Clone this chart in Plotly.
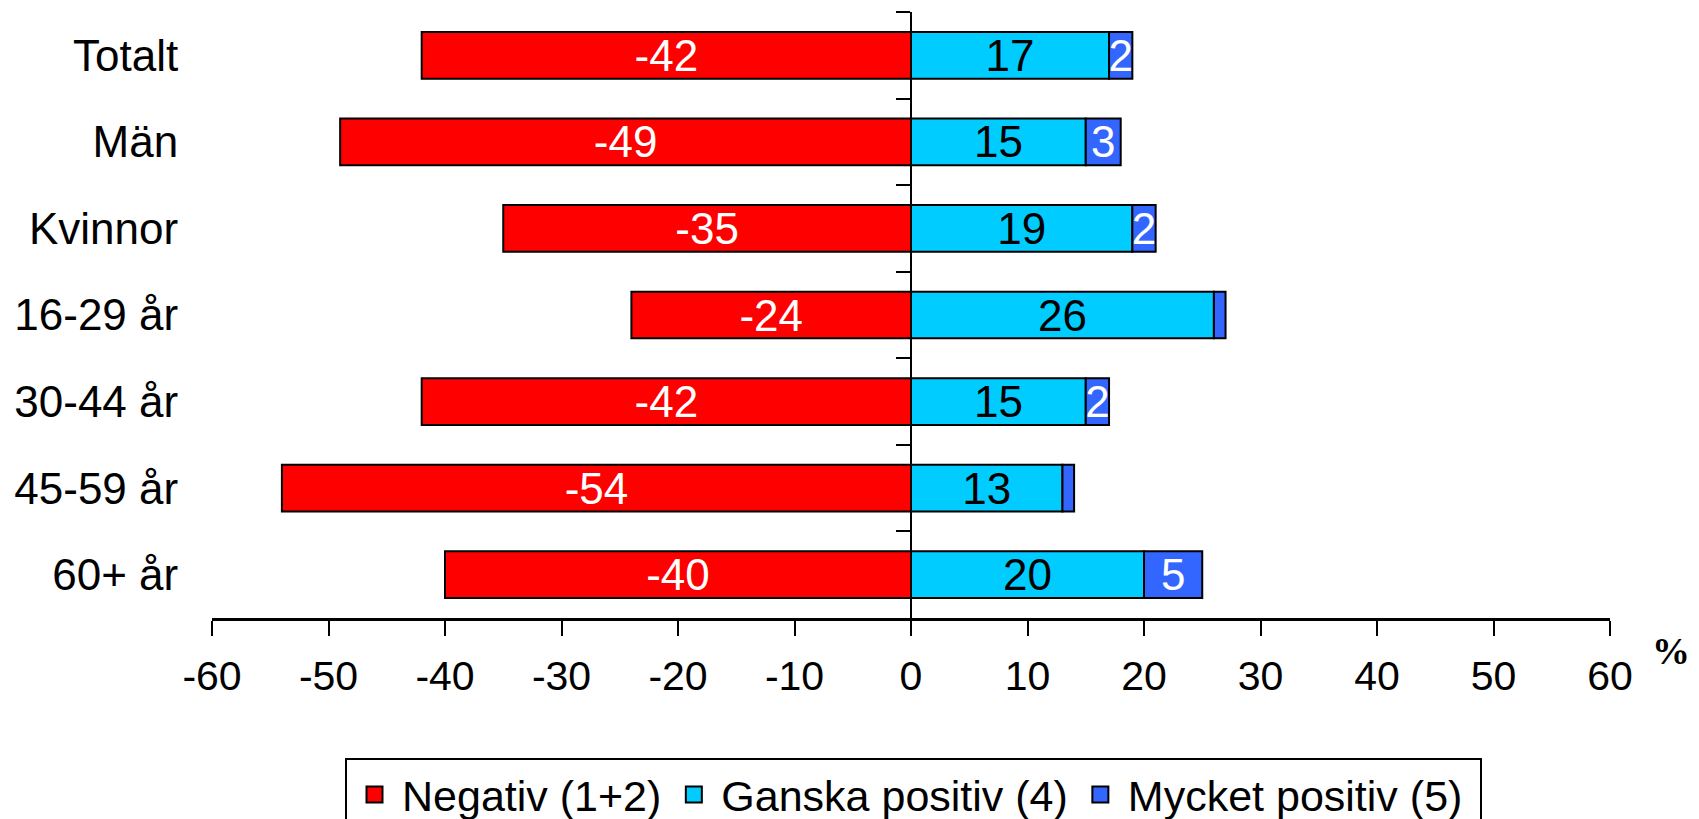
import plotly.graph_objects as go

categories = ["Totalt", "Män", "Kvinnor", "16-29 år", "30-44 år", "45-59 år", "60+ år"]
negativ = [-42, -49, -35, -24, -42, -54, -40]
ganska = [17, 15, 19, 26, 15, 13, 20]
mycket = [2, 3, 2, 1, 2, 1, 5]
series_names = ["Negativ (1+2)", "Ganska positiv (4)", "Mycket positiv (5)"]
series_colors = ["#FF0000", "#00CCFF", "#3366FF"]
label_colors = ["white", "black", "white"]
xticks = [-60, -50, -40, -30, -20, -10, 0, 10, 20, 30, 40, 50, 60]

FONT = "Liberation Sans, Arial, sans-serif"

fig = go.Figure()
series_values = [negativ, ganska, mycket]
for vals, name, col, lcol in zip(series_values, series_names, series_colors, label_colors):
    fig.add_trace(go.Bar(
        y=categories, x=vals, orientation="h", name=name, showlegend=False,
        marker=dict(color=col, line=dict(color="black", width=2)),
        text=[str(v) if abs(v) >= 2 else "" for v in vals],
        textposition="inside", insidetextanchor="middle",
        textangle=0, constraintext="none",
        textfont=dict(color=lcol, size=44, family=FONT),
    ))
# legend entries (no data drawn)
for i, (name, col) in enumerate(zip(series_names, series_colors)):
    pad = "\u00a0" if i == len(series_names) - 1 else ""
    fig.add_trace(go.Scatter(
        x=[None], y=[None], mode="markers", name=name + pad,
        marker=dict(symbol="square", size=22, color=col, line=dict(color="black", width=2)),
    ))

W, H = 1699, 819
OFF = 8  # page body margin
ml, mr, mt, mb = 212 - OFF, 89 + OFF, 12 - OFF, 201 + OFF
pw, ph = W - ml - mr, H - mt - mb

fig.update_layout(
    width=W, height=H,
    margin=dict(l=ml, r=mr, t=mt, b=mb, autoexpand=False),
    barmode="relative", bargap=0.46,
    paper_bgcolor="white", plot_bgcolor="white",
    font=dict(family=FONT, color="black", size=41),
    xaxis=dict(
        range=[-60, 60], tickvals=xticks, ticktext=[str(t) for t in xticks],
        showgrid=False, zeroline=False,
        showline=True, linecolor="black", linewidth=3,
        ticks="outside", ticklen=15, tickwidth=2, tickcolor="black",
        ticklabelstandoff=5,
        tickfont=dict(size=41, family=FONT, color="black"),
        automargin=False, fixedrange=True,
    ),
    yaxis=dict(
        type="category", categoryorder="array", categoryarray=categories,
        range=[6.5, -0.5], anchor="free", position=0.5,
        showgrid=False, zeroline=False,
        showline=True, linecolor="black", linewidth=2,
        ticks="outside", ticklen=14, tickwidth=2, tickcolor="black",
        tickson="boundaries", ticklabelstandoff=723,
        tickfont=dict(size=44, family=FONT, color="black"),
        automargin=False, fixedrange=True,
    ),
    legend=dict(
        orientation="h", x=(345 - OFF - ml) / pw, y=(H - mb - (758 - OFF)) / ph,
        xanchor="left", yanchor="top",
        bordercolor="black", borderwidth=2, bgcolor="white",
        font=dict(size=43, family=FONT, color="black"),
        traceorder="normal", itemwidth=45,
    ),
    showlegend=True,
)

fig.add_annotation(
    text="<b>%</b>", xref="paper", yref="paper", xanchor="center", yanchor="middle",
    x=(1671 - OFF - ml) / pw, y=(H - mb - (651 - OFF)) / ph,
    showarrow=False, font=dict(family="Liberation Serif, Times New Roman, serif", size=38, color="black"),
)

fig.write_html("out.html")
